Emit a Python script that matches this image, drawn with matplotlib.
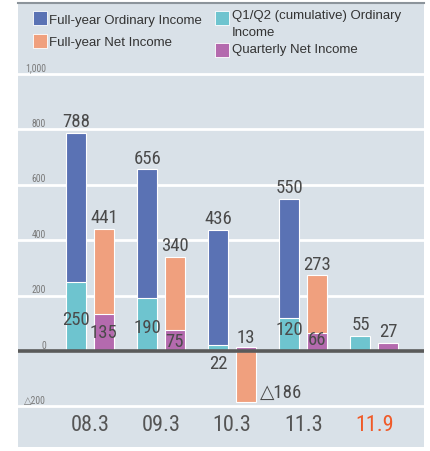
import numpy as np
import matplotlib
matplotlib.use("Agg")
import matplotlib.pyplot as plt
import matplotlib.patches as ptchs

# data
categories = ["08.3", "09.3", "10.3", "11.3", "11.9"]
full_ordinary = [788, 656, 436, 550, np.nan]
q_ordinary = [250, 190, 22, 120, 55]
full_net = [441, 340, -186, 273, np.nan]
q_net = [135, 75, 13, 66, 27]

legend_labels = ["Full-year Ordinary Income", "Full-year Net Income",
                 "Q1/Q2 (cumulative) Ordinary\nIncome", "Quarterly Net Income"]
ytick_values = [1000, 800, 600, 400, 200, 0, -200]
ytick_labels = ["1,000", "800", "600", "400", "200", "0", "\u25b3200"]

# colours
c_blue = "#5a72b4"
c_orange = "#f0a07e"
c_cyan = "#6ec4cf"
c_purple = "#b46aae"
c_panel = "#d9e1e8"
c_text = "#4a4a4a"

narrow = ["Roboto Condensed", "Liberation Sans Narrow", "Liberation Sans", "DejaVu Sans"]
sans = ["Liberation Sans", "DejaVu Sans"]

W, H = 431, 452
fig = plt.figure(figsize=(W / 100, H / 100), dpi=100)
fig.patch.set_facecolor("white")

# panel axes: pixels x 18..424, y 5..448
ax = fig.add_axes([18 / W, (H - 448) / H, (424 - 18) / W, (448 - 5) / H])
ax.set_facecolor(c_panel)
for s in ax.spines.values():
    s.set_visible(False)
ax.set_xticks([])
ax.set_yticks([])
ax.set_xlim(-1.014, 4.70)
ax.set_ylim(-347, 1253)

# white gridlines
for v in ytick_values:
    if v != 0:
        ax.axhline(v, color="white", lw=2, zorder=1)

x = np.arange(len(categories))
bw = 0.28
off = 0.195

ax.bar(x - off, full_ordinary, bw, color=c_blue, edgecolor="white", lw=0.8, zorder=2)
ax.bar(x - off, q_ordinary, bw, color=c_cyan, edgecolor="white", lw=0.8, zorder=3)
ax.bar(x + off, full_net, bw, color=c_orange, edgecolor="white", lw=0.8, zorder=2)
ax.bar(x + off, q_net, bw, color=c_purple, edgecolor="white", lw=0.8, zorder=3)

ax.axhline(0, color="#5a5a5a", lw=2.6, zorder=4)

# top dark border
fig.add_artist(plt.Line2D([18 / W, 424 / W], [1 - 4 / H, 1 - 4 / H],
                          color="#8c949b", lw=1.5, transform=fig.transFigure))

# y tick labels (inside panel, above gridline)
for v, lab in zip(ytick_values, ytick_labels):
    ax.annotate(lab, (46 - 18, v), xycoords=("axes pixels", "data"),
                xytext=(0, 1), textcoords="offset points",
                ha="right", va="bottom", fontsize=7, color="#7a7a7a",
                family=narrow)

# value labels above bars
lbl = dict(fontsize=13.5, color=c_text, family=narrow, zorder=5)
for i in range(len(categories)):
    if not np.isnan(full_ordinary[i]):
        ax.annotate(str(full_ordinary[i]), (x[i] - off, full_ordinary[i]),
                    xytext=(0, 2), textcoords="offset points",
                    ha="center", va="bottom", **lbl)
    if not np.isnan(full_net[i]) and full_net[i] > 0:
        ax.annotate(str(full_net[i]), (x[i] + off, full_net[i]),
                    xytext=(0, 2), textcoords="offset points",
                    ha="center", va="bottom", **lbl)

# inner / small-value labels (y positions in data units for the text)
cyan_label_y = [115, 85, -43, 78, 97]
purple_label_y = [70, 36, 50, 42, 72]
for i in range(len(categories)):
    ax.text(x[i] - off, cyan_label_y[i], str(q_ordinary[i]),
            ha="center", va="center", **lbl)
    ax.text(x[i] + off, purple_label_y[i], str(q_net[i]),
            ha="center", va="center", **lbl)

# negative net income label
ax.text(x[2] + off + 0.5, -148, "\u25b3" + str(abs(full_net[2])),
        ha="center", va="center", **lbl)

# category labels
for i, c in enumerate(categories):
    ax.text(x[i], -265, c, ha="center", va="center", fontsize=16,
            family=narrow, color="#f05a28" if c == "11.9" else "#555555")

# legend (pixel positions from the top-left of the figure)
leg_cols = [c_blue, c_orange, c_cyan, c_purple]
leg_sq = [(33, 12), (33, 35), (215, 12), (215, 44)]
leg_txt = [(49, 21), (49, 43), (232, 16), (232, 50)]
for col, (sx, sy), (tx, ty), lab in zip(leg_cols, leg_sq, leg_txt, legend_labels):
    fig.add_artist(ptchs.Rectangle((sx / W, 1 - (sy + 14) / H), 14 / W, 14 / H,
                                   facecolor=col, edgecolor="white", lw=0.6,
                                   transform=fig.transFigure))
    for k, line in enumerate(lab.split("\n")):
        fig.text(tx / W, 1 - (ty + 17 * k) / H, line, ha="left", va="center",
                 fontsize=9.5, family=sans, color="#333333")

fig.savefig("out.png", dpi=100)
